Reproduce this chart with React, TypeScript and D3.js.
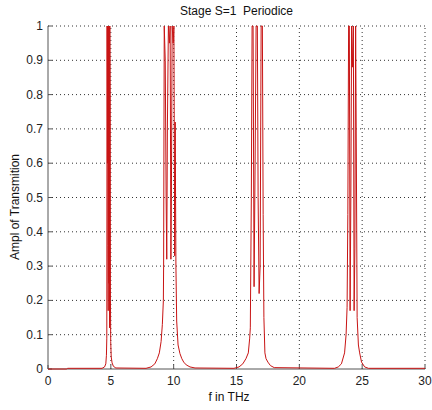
import React from "react";
import * as d3 from "d3";

const titleText = "Stage S=1\u00a0\u00a0Periodice";
const xLabel = "f in THz";
const yLabel = "Ampl of Transmition";

const xTicks = [0, 5, 10, 15, 20, 25, 30];
const yTicks = [0, 0.1, 0.2, 0.3, 0.4, 0.5, 0.6, 0.7, 0.8, 0.9, 1];

// frequency (THz) / transmission amplitude pairs
const baseF = [0, 1.5, 1.55, 4.3];
const baseT = [0, 0, 0.002, 0.002];

const band1F = [4.5, 4.6, 4.65, 4.68, 4.7, 4.73, 4.75, 4.77, 4.79, 4.81, 4.84, 4.87, 4.9, 4.92, 4.95, 4.97, 4.99, 5.03, 5.1, 5.2, 5.4, 7.8];
const band1T = [0.006, 0.015, 0.04, 0.09, 1.0, 0.6, 1.0, 0.36, 0.17, 1.0, 0.25, 1.0, 0.12, 1.0, 0.8, 0.2, 0.08, 0.035, 0.018, 0.008, 0.003, 0.002];

const band2F = [8.2, 8.5, 8.7, 8.86, 9.0, 9.1, 9.18, 9.2, 9.25, 9.33, 9.4, 9.45, 9.5, 9.58, 9.66, 9.72, 9.78, 9.82, 9.88, 9.96, 10.02, 10.08, 10.12, 10.18, 10.24, 10.35, 10.5, 10.65, 10.8, 11.0, 11.3, 11.7, 14.8];
const band2T = [0.006, 0.015, 0.03, 0.047, 0.08, 0.13, 0.2, 0.3, 1.0, 0.9, 0.5, 0.32, 0.7, 1.0, 0.95, 1.0, 0.32, 0.5, 1.0, 0.95, 1.0, 0.33, 0.72, 0.3, 0.14, 0.07, 0.045, 0.03, 0.02, 0.012, 0.006, 0.003, 0.002];

const band3F = [15.2, 15.5, 15.75, 15.94, 16.05, 16.1, 16.18, 16.24, 16.32, 16.4, 16.48, 16.56, 16.66, 16.72, 16.8, 16.88, 16.96, 17.06, 17.12, 17.18, 17.26, 17.35, 17.5, 17.7, 18.0, 22.8];
const band3T = [0.006, 0.015, 0.03, 0.047, 0.09, 0.12, 0.5, 1.0, 1.0, 0.24, 0.6, 1.0, 1.0, 0.5, 0.22, 0.3, 1.0, 1.0, 0.45, 0.15, 0.047, 0.03, 0.02, 0.01, 0.004, 0.002];

const band4F = [23.1, 23.35, 23.6, 23.72, 23.8, 23.86, 23.92, 23.98, 24.04, 24.1, 24.16, 24.24, 24.3, 24.36, 24.42, 24.48, 24.54, 24.6, 24.7, 24.8, 24.95, 25.2, 25.5, 30];
const band4T = [0.006, 0.015, 0.047, 0.1, 0.18, 0.45, 1.0, 1.0, 0.17, 0.5, 1.0, 0.88, 1.0, 0.17, 0.35, 1.0, 0.6, 0.15, 0.07, 0.047, 0.02, 0.006, 0.002, 0.002];

const W = 432;
const H = 410;
const M = { left: 48, right: 425, top: 26, bottom: 369 };

export default function App() {
  const x = d3.scaleLinear().domain([0, 30]).range([M.left, M.right]);
  const y = d3.scaleLinear().domain([0, 1]).range([M.bottom, M.top]);

  const fAll = [...baseF, ...band1F, ...band2F, ...band3F, ...band4F];
  const tAll = [...baseT, ...band1T, ...band2T, ...band3T, ...band4T];
  const pts: [number, number][] = fAll.map((f, i) => [f, tAll[i]]);

  const line = d3
    .line<[number, number]>()
    .x((d) => x(d[0]))
    .y((d) => y(d[1]));

  const font = "'Liberation Sans', Arial, Helvetica, sans-serif";
  const axisColor = "#555";

  return (
    <svg
      width={W}
      height={H}
      style={{ position: "absolute", left: 0, top: 0, background: "#fff" }}
      fontFamily={font}
    >
      <rect x={0} y={0} width={W} height={H} fill="#fff" />
      {/* grid */}
      {xTicks.slice(1).map((t) => (
        <line
          key={"gx" + t}
          x1={x(t)}
          x2={x(t)}
          y1={y(0)}
          y2={y(1)}
          stroke="#333"
          strokeWidth={1}
          strokeDasharray="1,3"
        />
      ))}
      {yTicks.slice(1).map((t) => (
        <line
          key={"gy" + t}
          x1={x(0)}
          x2={x(30)}
          y1={y(t)}
          y2={y(t)}
          stroke="#333"
          strokeWidth={1}
          strokeDasharray="1,3"
        />
      ))}
      {/* axes */}
      <line x1={x(0)} x2={x(0)} y1={y(0)} y2={y(1)} stroke={axisColor} />
      <line x1={x(0)} x2={x(30)} y1={y(0)} y2={y(0)} stroke={axisColor} />
      {xTicks.map((t) => (
        <g key={"xt" + t}>
          <line x1={x(t)} x2={x(t)} y1={y(0)} y2={y(0) - 4} stroke={axisColor} />
          <text x={x(t)} y={385} textAnchor="middle" fontSize={12} fill="#222">
            {t}
          </text>
        </g>
      ))}
      {yTicks.map((t) => (
        <g key={"yt" + t}>
          <line x1={x(0)} x2={x(0) + 4} y1={y(t)} y2={y(t)} stroke={axisColor} />
          <text x={43} y={y(t) + 4} textAnchor="end" fontSize={12} fill="#222">
            {String(+t.toFixed(1))}
          </text>
        </g>
      ))}
      {/* data */}
      <path d={line(pts) || ""} fill="none" stroke="#c81414" strokeWidth={1} />
      {/* labels */}
      <text x={236.5} y={15} textAnchor="middle" fontSize={12} fill="#111">
        {titleText}
      </text>
      <text x={229} y={401} textAnchor="middle" fontSize={12} fill="#111">
        {xLabel}
      </text>
      <text
        transform={`translate(19,207) rotate(-90)`}
        textAnchor="middle"
        fontSize={12}
        fill="#111"
      >
        {yLabel}
      </text>
    </svg>
  );
}
